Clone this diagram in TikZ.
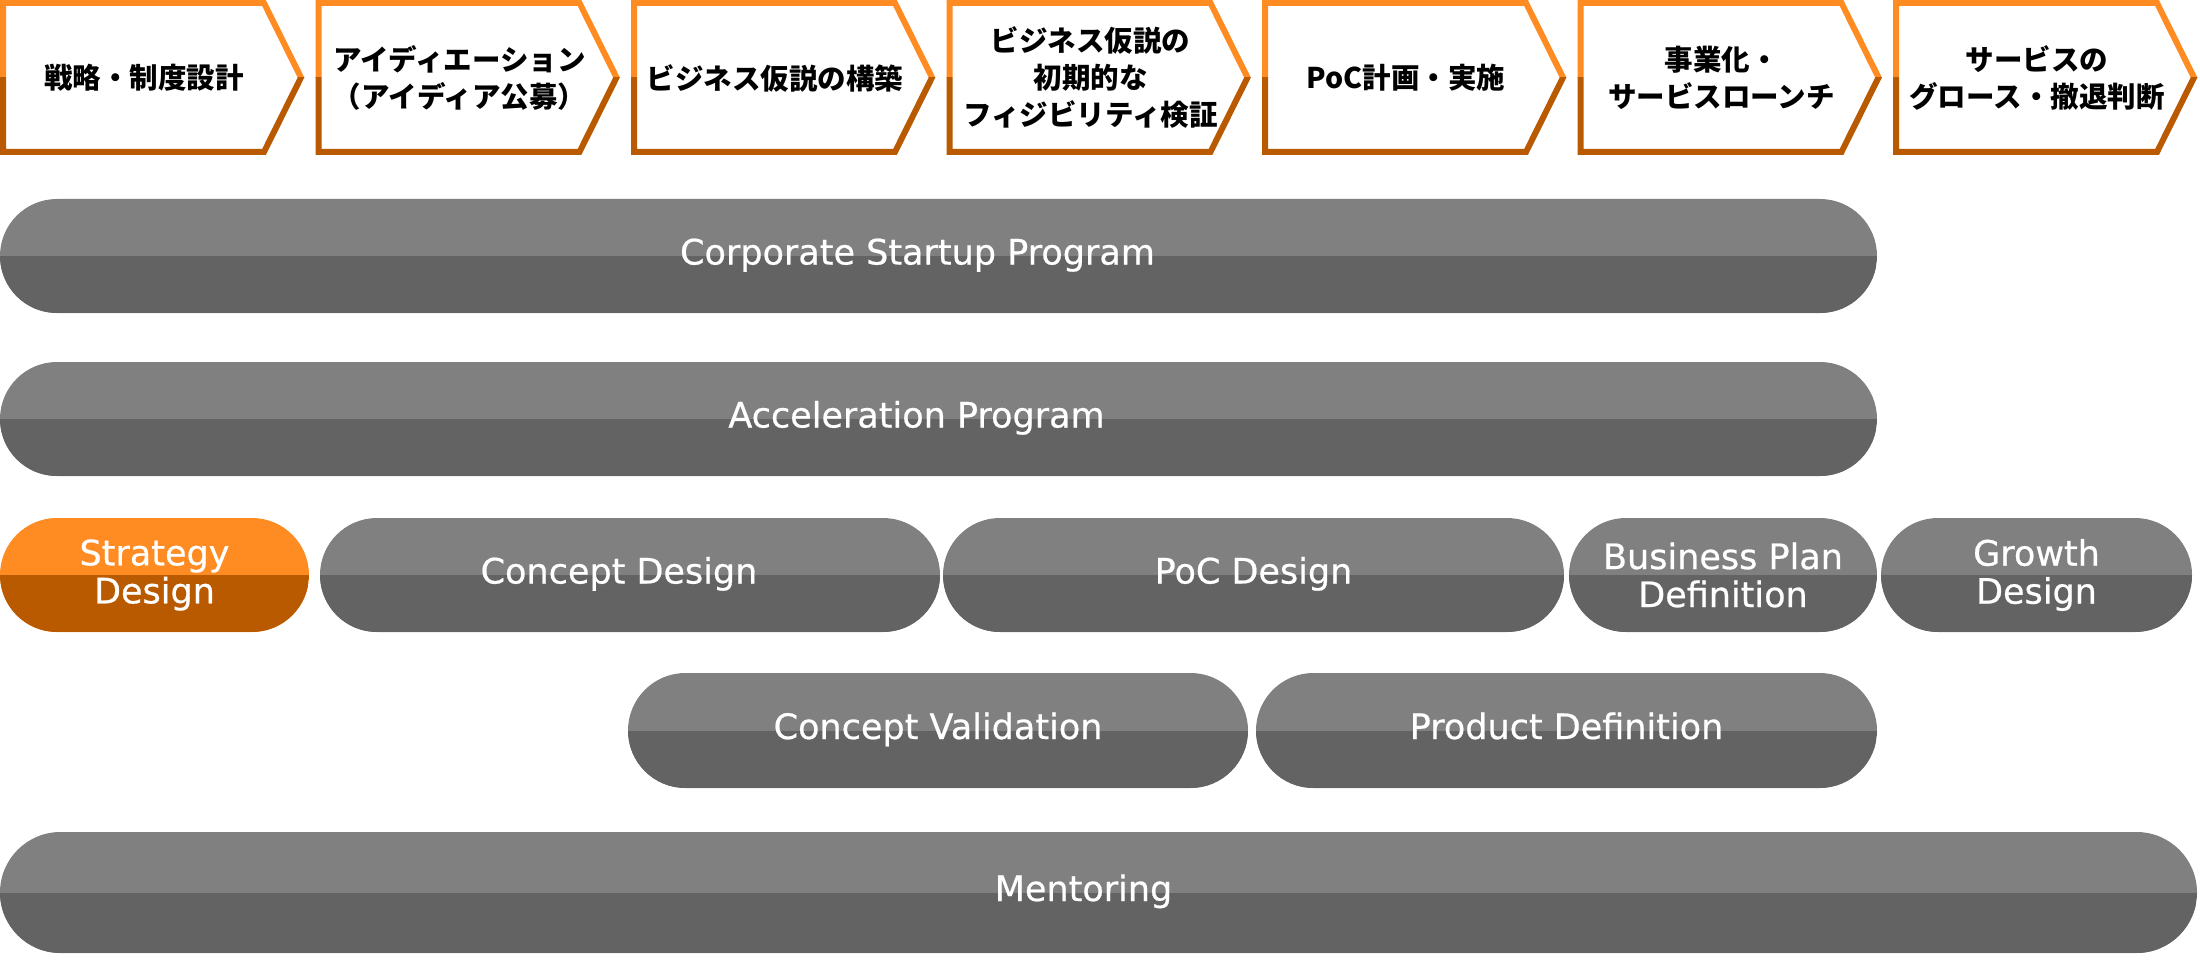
\documentclass[tikz,border=0pt]{standalone}
\usepackage{fontspec}
\setmainfont{DejaVu Sans}
\newfontfamily\pillfont[FakeBold=0.6]{DejaVu Sans}
\newfontfamily\jpfont{Noto Sans CJK JP}
\usetikzlibrary{shapes.misc}

\definecolor{stepLight}{RGB}{255,140,34}
\definecolor{stepDark}{RGB}{185,89,0}
\definecolor{pillLight}{RGB}{128,128,128}
\definecolor{pillDark}{RGB}{99,99,99}

\tikzset{
  stepline/.style={line width=6pt, line join=miter, fill=white},
  steptext/.style={align=center, inner sep=0pt, font=\jpfont\bfseries\fontsize{28.5}{37}\selectfont},
  pill/.style 2 args={rounded rectangle, inner sep=0pt, align=center, text=white,
    font=\pillfont\fontsize{35}{38}\selectfont, fill=#1,
    path picture={\fill [#2] (path picture bounding box.west) rectangle (path picture bounding box.south east);}},
  greypill/.style={pill={pillLight}{pillDark}},
  orangepill/.style={pill={stepLight}{stepDark}},
  oneline/.style={text height=25pt, text depth=8pt},
}

\begin{document}
\begin{tikzpicture}[x=1pt,y=1pt,yscale=-1,xscale=1]
    \useasboundingbox (0,0) rectangle (2200,960);

    %Shape: Chevrons for the steps (light top half, dark bottom half)
    \foreach \i/\txt in {0/{戦略・制度設計},
                         1/{アイディエーション\\（アイディア公募）},
                         2/{ビジネス仮説の構築},
                         3/{ビジネス仮説の\\初期的な\\フィジビリティ検証},
                         4/{PoC計画・実施},
                         5/{事業化・\\サービスローンチ},
                         6/{サービスの\\グロース・撤退判断}}
    {
      \pgfmathsetmacro\xl{315.5*\i}
      \begin{scope}
        \clip (\xl-2,-2) rectangle (\xl+315,77.5);
        \draw [stepline, draw=stepLight] (\xl+3,3) -- (\xl+264,3) -- (\xl+301,77.5)
              -- (\xl+264,152) -- (\xl+3,152) -- cycle;
      \end{scope}
      \begin{scope}
        \clip (\xl-2,77.5) rectangle (\xl+315,160);
        \draw [stepline, draw=stepDark] (\xl+3,3) -- (\xl+264,3) -- (\xl+301,77.5)
              -- (\xl+264,152) -- (\xl+3,152) -- cycle;
      \end{scope}
      %Text: step name
      \node [steptext] (step\i) at (\xl+144,78) {\txt};
    }

    %Shape: Pills, row 1 and 2
    \node [greypill, oneline, minimum width=1877pt, minimum height=114pt] (csp) at (938.5,256) {Corporate Startup Program\hspace*{42pt}};
    \node [greypill, oneline, minimum width=1877pt, minimum height=114pt] (acc) at (938.5,419) {Acceleration Program\hspace*{44pt}};

    %Shape: Pills, row 3
    \node [orangepill, minimum width=309pt, minimum height=114pt] (sd)   at (154.5,575)  {Strategy\\Design};
    \node [greypill, oneline, minimum width=620pt, minimum height=114pt] (cd)   at (630,575)    {Concept Design\hspace*{22pt}};
    \node [greypill, oneline, minimum width=621pt, minimum height=114pt] (pocd) at (1253.5,575) {PoC Design};
    \node [greypill,   minimum width=308pt, minimum height=114pt] (bpd)  at (1723,575)   {Business Plan\\Definition};
    \node [greypill,   minimum width=311pt, minimum height=114pt] (gd)   at (2036.5,575) {Growth\\Design};

    %Shape: Pills, row 4
    \node [greypill, oneline, minimum width=620pt, minimum height=115pt] (cv) at (938,730.5)    {Concept Validation};
    \node [greypill, oneline, minimum width=621pt, minimum height=115pt] (pd) at (1566.5,730.5) {Product Definition};

    %Shape: Pill, row 5
    \node [greypill, oneline, minimum width=2197pt, minimum height=121pt] (ment) at (1098.5,892.5) {Mentoring\hspace*{30pt}};
\end{tikzpicture}
\end{document}
